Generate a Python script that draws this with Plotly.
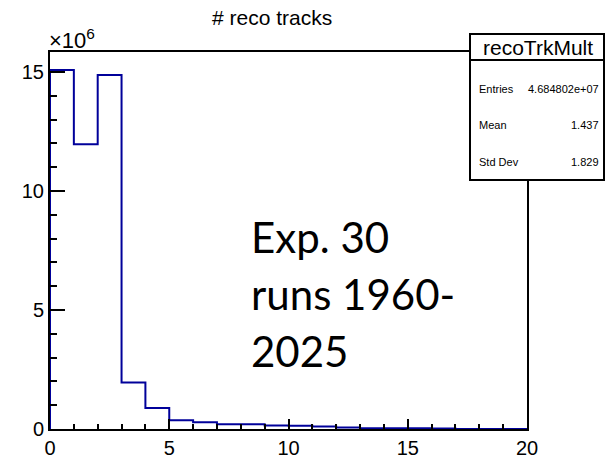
import plotly.graph_objects as go

# ---- data (counts in units of 1e6) ----
bin_edges = list(range(0, 21))
counts_millions = [15.08, 11.96, 14.87, 1.95, 0.88, 0.37, 0.28, 0.20, 0.20, 0.15,
                   0.14, 0.10, 0.06, 0.03, 0.03, 0.03, 0.02, 0.0, 0.0, 0.0]
title_text = "# reco tracks"
stats_name = "recoTrkMult"
stats_rows = [("Entries", "4.684802e+07"), ("Mean", "1.437"), ("Std Dev", "1.829")]
note_lines = ["Exp. 30", "runs 1960-", "2025"]
x_ticks = [0, 5, 10, 15, 20]
y_ticks = [0, 5, 10, 15]

W, H = 605, 459
L, R, T, B = 50, 527, 52, 429


def px(x):
    return (x - L) / (R - L)


def py(y):
    return (B - y) / (B - T)


xs = [bin_edges[0]] + bin_edges + [bin_edges[-1]]
ys = [0] + counts_millions + [counts_millions[-1], 0]

fig = go.Figure()
fig.add_trace(go.Scatter(x=xs, y=ys, mode="lines", line_shape="hv",
                         line=dict(color="#00009a", width=2), hoverinfo="skip",
                         showlegend=False, cliponaxis=False))

axis_common = dict(showgrid=False, zeroline=False, showline=True, mirror=True,
                   linecolor="black", linewidth=2, ticks="inside",
                   tickcolor="black", tickwidth=2, automargin=False,
                   tickfont=dict(family="Liberation Sans, Arial", size=20, color="black"))

fig.update_xaxes(range=[0, 20], tickvals=x_ticks, ticklen=10,
                 minor=dict(dtick=1, ticks="inside", ticklen=5, tickcolor="black", tickwidth=2),
                 **axis_common)
fig.update_yaxes(range=[0, 15.84], tickvals=y_ticks, ticklen=15,
                 minor=dict(dtick=1, ticks="inside", ticklen=7, tickcolor="black", tickwidth=2),
                 **axis_common)

shapes = [
    dict(type="rect", xref="paper", yref="paper", x0=px(470), x1=px(604), y0=py(180), y1=py(34),
         line=dict(color="black", width=2), fillcolor="white", layer="above"),
    dict(type="line", xref="paper", yref="paper", x0=px(470), x1=px(604), y0=py(60), y1=py(60),
         line=dict(color="black", width=2), layer="above"),
]


def ann(text, x, y, xanchor, size, family="Liberation Sans, Arial"):
    return dict(text=text, xref="paper", yref="paper", x=px(x), y=py(y),
                xanchor=xanchor, yanchor="middle", showarrow=False,
                font=dict(family=family, size=size, color="black"))


annotations = [
    ann(title_text, 272, 18, "center", 21),
    ann("×10<sup>6</sup>", 47, 39, "left", 22),
    ann(stats_name, 538, 47, "center", 21),
]
row_y = [89, 125, 162]
for (lab, val), yy in zip(stats_rows, row_y):
    annotations.append(ann(lab, 477, yy, "left", 11))
    annotations.append(ann(val, 601, yy, "right", 11))
note_y = [237, 294, 351]
for line, yy in zip(note_lines, note_y):
    annotations.append(ann(line, 249, yy, "left", 42, family="Lato"))

fig.update_layout(width=W, height=H, margin=dict(l=L, r=W - R, t=T, b=H - B),
                  paper_bgcolor="white", plot_bgcolor="white",
                  shapes=shapes, annotations=annotations)

fig.write_html("out.html")
